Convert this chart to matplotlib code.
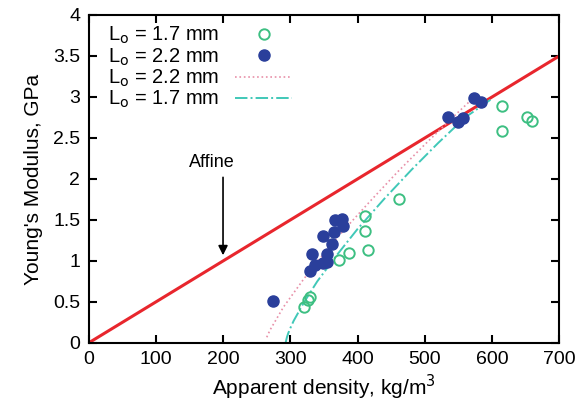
import numpy as np
import matplotlib
matplotlib.use("Agg")
from matplotlib import pyplot as plt
from matplotlib.ticker import FuncFormatter, MultipleLocator

plt.rcParams['font.family'] = ['Liberation Sans', 'DejaVu Sans']

# measured moduli, Lo = 1.7 mm (open) and Lo = 2.2 mm (filled)
rho_17 = [320, 326, 329, 372, 387, 411, 411, 415, 462, 615, 615, 652, 659]
E_17 = [0.44, 0.52, 0.56, 1.01, 1.10, 1.55, 1.37, 1.14, 1.76, 2.89, 2.58, 2.76, 2.71]

rho_22 = [275, 329, 332, 337, 348, 354, 354, 349, 362, 365, 367, 377, 378,
          535, 550, 557, 573, 583]
E_22 = [0.51, 0.88, 1.09, 0.95, 0.97, 0.99, 1.09, 1.30, 1.21, 1.35, 1.50, 1.51, 1.43,
        2.75, 2.70, 2.74, 2.99, 2.94]

# fitted curves
fit22_rho = [265, 270, 290, 320, 350, 380, 420, 460, 500, 540, 575]
fit22_E = [0.07, 0.16, 0.44, 0.78, 1.09, 1.38, 1.74, 2.09, 2.42, 2.74, 3.01]

fit17_rho = [293, 295, 297, 300, 305, 320, 340, 370, 400, 440, 480, 520, 560, 600]
fit17_E = [0.0, 0.07, 0.12, 0.18, 0.27, 0.49, 0.75, 1.08, 1.39, 1.76, 2.11, 2.44, 2.75, 2.98]

# affine prediction
affine_rho = [0, 700]
affine_E = [0, 3.5]

fig = plt.figure(figsize=(5.87, 4.16), dpi=100)
ax = fig.add_axes([0.1508, 0.1755, 0.802, 0.7885])

ax.plot(affine_rho, affine_E, color='#e8262d', lw=2.2, zorder=2)
ax.plot(rho_17, E_17, 'o', ls='none', mfc='none', mec='#3dbf82', mew=1.4, ms=7.5,
        label=r'L$_\mathrm{o}$ = 1.7 mm', zorder=3)
ax.plot(rho_22, E_22, 'o', ls='none', color='#2a3f9b', ms=8,
        label=r'L$_\mathrm{o}$ = 2.2 mm', zorder=4)
ax.plot(fit22_rho, fit22_E, ls=':', color='#e890a8', lw=1.2,
        label=r'L$_\mathrm{o}$ = 2.2 mm', zorder=2)
ax.plot(fit17_rho, fit17_E, ls='-.', color='#40c8b8', lw=1.4,
        label=r'L$_\mathrm{o}$ = 1.7 mm', zorder=2)

ax.annotate('', xy=(200, 1.07), xytext=(200, 2.02),
            arrowprops=dict(arrowstyle='-|>', color='black', lw=1.2,
                            shrinkA=0, shrinkB=0, mutation_scale=14))
ax.text(183, 2.2, 'Affine', ha='center', va='center', fontsize=13)

ax.set_xlim(0, 700)
ax.set_ylim(0, 4)
ax.xaxis.set_major_locator(MultipleLocator(100))
ax.yaxis.set_major_locator(MultipleLocator(0.5))
ax.yaxis.set_major_formatter(FuncFormatter(lambda v, p: '%g' % v))
ax.tick_params(direction='in', length=6, width=1.5, top=True, right=True,
               labelsize=14, pad=6)
for s in ax.spines.values():
    s.set_linewidth(1.5)

ax.set_xlabel('Apparent density, kg/m$^3$', fontsize=15, labelpad=3)
ax.set_ylabel("Young's Modulus, GPa", fontsize=15, labelpad=7)

ax.legend(loc='upper left', frameon=False, markerfirst=False, fontsize=14.5,
          handlelength=2.8, handletextpad=0.8, labelspacing=0.0,
          borderaxespad=0.1, bbox_to_anchor=(0.02, 1.0))

fig.savefig('out.png', dpi=100)
